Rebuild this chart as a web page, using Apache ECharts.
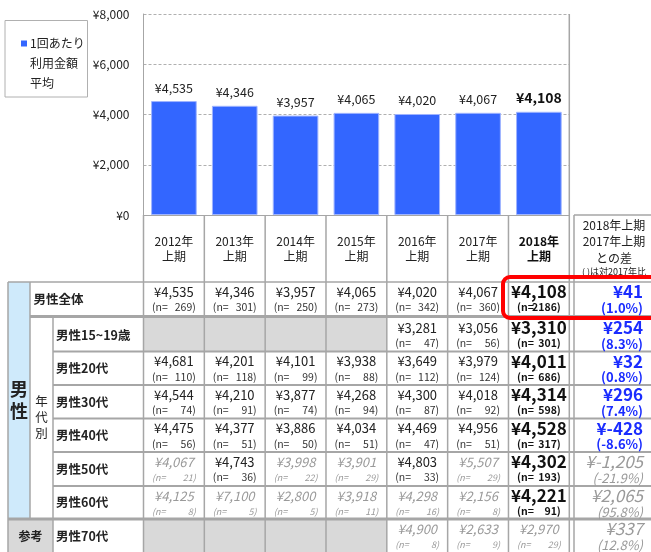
<!DOCTYPE html>
<html>
<head>
<meta charset="utf-8">
<script src="https://cdn.jsdelivr.net/npm/echarts@6/dist/echarts.min.js"></script>
<style>
  html, body { margin: 0; padding: 0; background: #fff; }
  #chart { width: 651px; height: 552px; }
</style>
</head>
<body>
<div id="chart"></div>
<script>
const FONT = '"Noto Sans CJK JP", "Noto Sans", sans-serif';

// chart data
const categories = ['2012年\n上期', '2013年\n上期', '2014年\n上期', '2015年\n上期', '2016年\n上期', '2017年\n上期', '2018年\n上期'];
const avgSpend = [4535, 4346, 3957, 4065, 4020, 4067, 4108];
const legendLines = ['1回あたり', '利用金額', '平均'];

// table data
const rowLabels = ['男性全体', '男性15~19歳', '男性20代', '男性30代', '男性40代', '男性50代', '男性60代', '男性70代'];
const rowValues = [
  [4535, 4346, 3957, 4065, 4020, 4067, 4108],
  [null, null, null, null, 3281, 3056, 3310],
  [4681, 4201, 4101, 3938, 3649, 3979, 4011],
  [4544, 4210, 3877, 4268, 4300, 4018, 4314],
  [4475, 4377, 3886, 4034, 4469, 4956, 4528],
  [4067, 4743, 3998, 3901, 4803, 5507, 4302],
  [4125, 7100, 2800, 3918, 4298, 2156, 4221],
  [null, null, null, null, 4900, 2633, 2970]
];
const rowCounts = [
  [269, 301, 250, 273, 342, 360, 2186],
  [null, null, null, null, 47, 56, 301],
  [110, 118, 99, 88, 112, 124, 686],
  [74, 91, 74, 94, 87, 92, 598],
  [56, 51, 50, 51, 47, 51, 317],
  [21, 36, 22, 29, 33, 29, 193],
  [8, 5, 5, 11, 16, 8, 91],
  [null, null, null, null, 8, 9, 29]
];
const diffValues = [41, 254, 32, 296, -428, -1205, 2065, 337];
const diffPcts = ['1.0', '8.3', '0.8', '7.4', '-8.6', '-21.9', '95.8', '12.8'];
const diffHeader = ['2018年上期', '2017年上期', 'との差'];
const diffNote = '( )は対2017年比';

const chart = echarts.init(document.getElementById('chart'));
const yen = v => '¥' + v.toLocaleString('en-US');
const last = categories.length - 1;

chart.setOption({
  animation: false,
  textStyle: { fontFamily: FONT },
  grid: { left: 143.5, top: 14, width: 425.8, height: 201 },
  xAxis: {
    type: 'category',
    data: categories,
    axisLine: { lineStyle: { color: '#a6a6a6', width: 1 } },
    axisTick: { show: false },
    axisLabel: {
      interval: 0,
      margin: 19,
      fontSize: 12,
      lineHeight: 15,
      color: '#222',
      formatter: (v, i) => (i === last ? '{b|' + v.replace('\n', '}\n{b|') + '}' : v),
      rich: { b: { fontWeight: 'bold', fontSize: 12, lineHeight: 15, color: '#111' } }
    }
  },
  yAxis: {
    type: 'value',
    min: 0,
    max: 8000,
    interval: 2000,
    axisLine: { show: true, lineStyle: { color: '#a6a6a6' } },
    axisTick: { show: false },
    axisLabel: { margin: 14, fontSize: 12, color: '#222', formatter: v => yen(v) },
    splitLine: { lineStyle: { color: '#b0b0b0', type: [3, 2] } }
  },
  series: [
    {
      name: legendLines.join(''),
      type: 'bar',
      data: avgSpend.map((v, i) => ({
        value: v,
        label: i === last ? { fontSize: 14, fontWeight: 'bold', color: '#111' } : {}
      })),
      barWidth: '75%',
      itemStyle: { color: '#3366ff', borderColor: '#9fb4ff', borderWidth: 1 },
      label: {
        show: true,
        position: 'top',
        distance: 7,
        fontSize: 12.5,
        color: '#222',
        formatter: p => yen(p.value)
      }
    }
  ]
});

// table laid out on the category axis
const cx = categories.map((_, i) => chart.convertToPixel({ xAxisIndex: 0 }, i));
const colW = cx[1] - cx[0];
const edges = cx.map(c => c - colW / 2).concat(cx[last] + colW / 2);
const rowTops = [282, 318, 351.5, 385, 418.5, 452, 486, 519, 553];
const LINE = '#a6a6a6';
const BLUE = '#1a2cff';
const GRAY = '#9a9a9a';

const els = [];
const rect = (x, y, w, h, fill, z) => els.push({ type: 'rect', shape: { x, y, width: w, height: h }, style: { fill }, z: z || 1 });
const line = (x1, y1, x2, y2, w) => els.push({ type: 'line', shape: { x1, y1, x2, y2 }, style: { stroke: LINE, lineWidth: w || 1.5 }, z: 2 });
const text = (x, y, t, s) => els.push({
  type: 'text', x, y, z: 3,
  style: Object.assign({ text: t, fill: '#222', fontFamily: FONT, fontSize: 12, align: 'center', verticalAlign: 'middle' }, s)
});

// legend box
els.push({ type: 'rect', shape: { x: 5, y: 20.5, width: 82.5, height: 76.5 }, style: { fill: '#fff', stroke: '#b0b0b0', lineWidth: 1 }, z: 2 });
rect(21, 40.5, 6, 6, '#3366ff', 3);
legendLines.forEach((t, i) => text(30, 43.5 + i * 20, t, { align: 'left', fontSize: 12 }));

// backgrounds
rect(8, 282, 22, 237, '#cfeafb');
rect(8, 519, 45, 34, '#d9d9d9');
rowValues.forEach((vals, r) => vals.forEach((v, i) => {
  if (v === null) rect(edges[i], rowTops[r], colW, rowTops[r + 1] - rowTops[r], '#d9d9d9');
}));

// grid lines of the table
line(8, 282, 651, 282);
line(30, 316.5, 651, 316.5, 3);
[351.5, 385, 418.5, 452, 486].forEach(y => line(53, y, 651, y, 2));
line(8, 519, 651, 519, 3);
line(8, 282, 8, 553);
line(30, 282, 30, 519);
line(53, 318, 53, 553);
edges.forEach((x, i) => {
  if (i === last + 1) line(x, 14, x, 553);
  else line(x, 215, x, 553);
});
line(574, 215, 574, 553);
line(574, 215, 651, 215);

// header of diff column
diffHeader.forEach((t, i) => text(614, 225 + i * 16.5, t, { fontSize: 12, color: '#222' }));
text(614, 272, diffNote, { fontSize: 9, color: '#222' });

// left labels
text(19, 389, '男', { fontSize: 18, fontWeight: 'bold', color: '#111' });
text(19, 411, '性', { fontSize: 18, fontWeight: 'bold', color: '#111' });
['年', '代', '別'].forEach((t, i) => text(41.5, 401 + i * 16, t, { fontSize: 12.5, color: '#222' }));
text(30.5, 536, '参考', { fontSize: 12, fontWeight: 'bold', color: '#111' });
rowLabels.forEach((t, r) => {
  const y = (rowTops[r] + (r === 0 ? 316 : rowTops[r + 1])) / 2;
  text(r === 0 ? 33.5 : 56, y, t, { align: 'left', fontSize: 12.5, fontWeight: 'bold', color: '#111' });
});

// cells
rowValues.forEach((vals, r) => {
  const top = rowTops[r];
  vals.forEach((v, i) => {
    if (v === null) return;
    const n = rowCounts[r][i];
    const small = n < 30;
    const big = i === last && !small;
    const vs = small ? { fontSize: 13, fontStyle: 'italic', fill: GRAY }
      : big ? { fontSize: 17, fontWeight: 'bold', fill: '#111' }
      : { fontSize: 13, fill: '#222' };
    text(cx[i], top + 10, yen(v), vs);
    const ns = small ? { fontSize: 9, fontStyle: 'italic', fill: GRAY }
      : big ? { fontSize: 10.5, fontWeight: 'bold', fill: '#111' }
      : { fontSize: 10.5, fill: '#333' };
    text(edges[i] + 8.5, top + 25.5, '(n=', Object.assign({ align: 'left' }, ns));
    text(edges[i + 1] - 8.5, top + 25.5, n + ')', Object.assign({ align: 'right' }, ns));
  });
  const nPrev = rowCounts[r][last - 1];
  const nCur = rowCounts[r][last];
  const weak = Math.min(nPrev, nCur) < 30;
  const dv = weak ? { fontSize: 17, fontStyle: 'italic', fill: GRAY } : { fontSize: 17, fontWeight: 'bold', fill: BLUE };
  const dp = weak ? { fontSize: 13, fontStyle: 'italic', fill: GRAY } : { fontSize: 13, fontWeight: 'bold', fill: BLUE };
  text(643, top + 10, yen(diffValues[r]), Object.assign({ align: 'right' }, dv));
  text(643, top + 26, '(' + diffPcts[r] + '%)', Object.assign({ align: 'right' }, dp));
});

// highlight box
els.push({
  type: 'rect', z: 5,
  shape: { x: 503, y: 277, width: 160, height: 41, r: 7 },
  style: { fill: 'none', stroke: '#ff0000', lineWidth: 4 }
});

chart.setOption({ graphic: { elements: els } });
</script>
</body>
</html>
